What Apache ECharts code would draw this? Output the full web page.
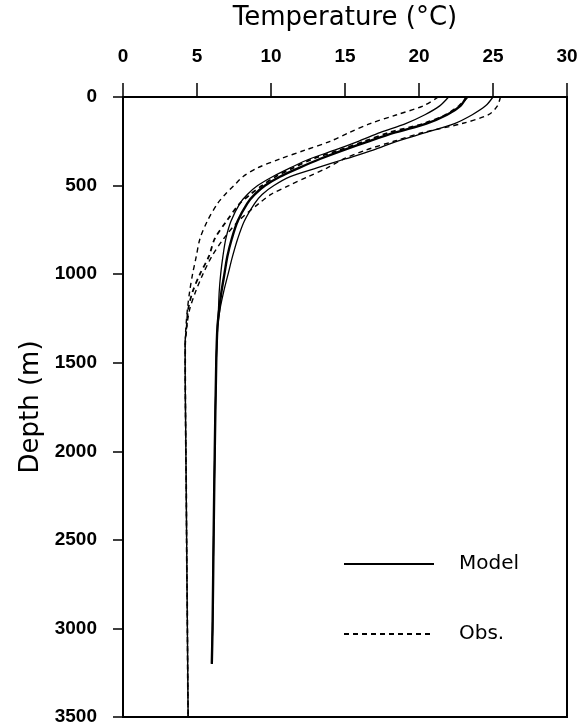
<!DOCTYPE html>
<html>
<head>
<meta charset="utf-8">
<script src="https://cdn.jsdelivr.net/npm/echarts@6/dist/echarts.min.js"></script>
<style>
  html, body { margin: 0; padding: 0; background: #fff; }
  #main { width: 582px; height: 727px; }
</style>
</head>
<body>
<div id="main"></div>
<script>
// depths (m)
const modelDepth = [0, 50, 100, 150, 200, 250, 300, 350, 400, 450, 500, 550, 600, 700, 800, 900, 1000, 1100, 1200, 1300, 1500, 2000, 2500, 3000, 3200];
const obsDepth = [0, 50, 100, 150, 200, 250, 300, 350, 400, 450, 500, 550, 600, 700, 800, 900, 1000, 1100, 1200, 1300, 1400, 1500, 2000, 2500, 3000, 3500];

// temperatures (°C)
const modelMin = [22.0, 21.4, 20.4, 19.1, 17.4, 15.9, 14.3, 12.6, 11.3, 10.1, 9.1, 8.4, 7.9, 7.3, 6.95, 6.75, 6.6, 6.5, 6.45, 6.38, 6.3, 6.2, 6.12, 6.05, 6.0];
const modelMean = [23.2, 22.8, 21.9, 20.5, 18.4, 16.6, 14.9, 13.3, 11.9, 10.6, 9.6, 8.9, 8.4, 7.75, 7.35, 7.05, 6.85, 6.65, 6.5, 6.38, 6.3, 6.2, 6.12, 6.05, 6.0];
const modelMax = [25.0, 24.5, 23.6, 22.4, 20.5, 18.5, 16.9, 15.0, 13.1, 11.3, 10.2, 9.4, 8.9, 8.2, 7.75, 7.4, 7.1, 6.8, 6.55, 6.4, 6.3, 6.2, 6.12, 6.05, 6.0];

const obsMin = [21.3, 20.3, 18.5, 16.7, 15.3, 14.0, 12.3, 10.6, 9.1, 8.1, 7.5, 6.9, 6.4, 5.7, 5.2, 4.95, 4.7, 4.5, 4.35, 4.25, 4.2, 4.2, 4.25, 4.3, 4.35, 4.4];
const obsMean = [23.3, 22.7, 21.8, 20.3, 18.0, 16.3, 14.6, 12.8, 11.5, 10.3, 9.4, 8.6, 7.9, 7.0, 6.2, 5.8, 5.2, 4.7, 4.4, 4.3, 4.2, 4.2, 4.25, 4.3, 4.35, 4.4];
const obsMax = [25.5, 25.3, 24.7, 22.9, 20.3, 18.3, 16.4, 14.9, 13.8, 12.5, 11.2, 10.0, 9.2, 7.8, 6.8, 6.0, 5.4, 4.9, 4.5, 4.3, 4.2, 4.2, 4.25, 4.3, 4.35, 4.4];

const font = 'DejaVu Sans';
const tickFont = 'Liberation Sans';

function pairs(temps, depths) {
  return temps.map((t, i) => [t, depths[i]]);
}

function profile(name, temps, depths, width, dashed) {
  return {
    name: name,
    type: 'line',
    data: pairs(temps, depths),
    symbol: 'none',
    smooth: 0.3,
    lineStyle: { color: '#000', width: width, type: dashed ? [5, 4] : 'solid' },
    itemStyle: { color: '#000' },
    animation: false,
  };
}

const chart = echarts.init(document.getElementById('main'), null, { renderer: 'canvas' });
chart.setOption({
  animation: false,
  textStyle: { fontFamily: font, color: '#000' },
  grid: {
    left: 123, right: 15, top: 97, bottom: 10,
    show: true, borderColor: '#000', borderWidth: 2,
  },
  legend: {
    orient: 'vertical',
    left: 338, top: 549,
    itemWidth: 90, itemHeight: 14, itemGap: 50,
    data: ['Model', 'Obs.'],
    itemStyle: { opacity: 0 },
    textStyle: { fontFamily: font, fontSize: 20, color: '#000', padding: [0, 0, 0, 20] },
    selectedMode: false,
  },
  xAxis: {
    type: 'value',
    position: 'top',
    min: 0, max: 30, interval: 5,
    name: 'Temperature (°C)',
    nameLocation: 'middle',
    nameGap: 66,
    nameTextStyle: { fontFamily: font, fontSize: 26, color: '#000' },
    axisLine: { lineStyle: { color: '#000', width: 2 } },
    axisTick: { inside: false, length: 14, lineStyle: { color: '#000', width: 1.5 } },
    axisLabel: { margin: 31, fontFamily: tickFont, fontSize: 19, fontWeight: 'bold', color: '#000' },
    splitLine: { show: false },
  },
  yAxis: {
    type: 'value',
    inverse: true,
    min: 0, max: 3500, interval: 500,
    name: 'Depth (m)',
    nameLocation: 'middle',
    nameGap: 73,
    nameTextStyle: { fontFamily: font, fontSize: 26, color: '#000' },
    axisLine: { lineStyle: { color: '#000', width: 2 } },
    axisTick: { inside: false, length: 10, lineStyle: { color: '#000', width: 1.5 } },
    axisLabel: {
      margin: 26, fontFamily: tickFont, fontSize: 19, fontWeight: 'bold', color: '#000',
      formatter: (v) => String(v),
    },
    splitLine: { show: false },
  },
  series: [
    profile('Model', modelMin, modelDepth, 1.3, false),
    profile('Model', modelMean, modelDepth, 2.4, false),
    profile('Model', modelMax, modelDepth, 1.3, false),
    profile('Obs.', obsMin, obsDepth, 1.4, true),
    profile('Obs.', obsMean, obsDepth, 1.8, true),
    profile('Obs.', obsMax, obsDepth, 1.4, true),
  ],
});
</script>
</body>
</html>
